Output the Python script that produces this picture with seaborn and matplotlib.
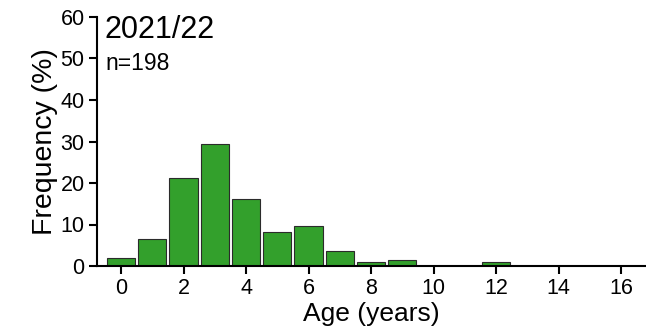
import matplotlib
matplotlib.use("Agg")
import matplotlib.pyplot as plt
import seaborn as sns
import pandas as pd

ages = [0, 1, 2, 3, 4, 5, 6, 7, 8, 9, 10, 11, 12, 13, 14, 15, 16]
freq = [2.0, 6.6, 21.2, 29.3, 16.2, 8.1, 9.6, 3.5, 1.0, 1.5, 0, 0, 1.0, 0, 0, 0, 0]
xticks = [0, 2, 4, 6, 8, 10, 12, 14, 16]
yticks = [0, 10, 20, 30, 40, 50, 60]
title = "2021/22"
ntext = "n=198"

sns.set_theme(style="ticks")
plt.rcParams['font.family'] = ['Liberation Sans', 'DejaVu Sans']
plt.rcParams['text.color'] = 'black'
plt.rcParams['axes.labelcolor'] = 'black'

df = pd.DataFrame({"age": ages, "freq": freq})

fig = plt.figure(figsize=(6.46, 3.28), dpi=100)
W, H = 646, 328
left, right, top, bottom = 97, 646, 17, 266
ax = fig.add_axes([left / W, 1 - bottom / H, (right - left) / W, (bottom - top) / H])

sns.barplot(data=df, x="age", y="freq", native_scale=True, width=0.9,
            color="#33a02c", saturation=1, edgecolor="#2b2b2b", linewidth=0.8, ax=ax)

ax.set_xlim(-0.77, 16.8)
ax.set_ylim(0, 60)
ax.set_xticks(xticks)
ax.set_yticks(yticks)
ax.tick_params(axis="both", labelsize=15.5, length=6, width=1.5, color="black",
               labelcolor="black", pad=3)
for s in ["left", "bottom"]:
    ax.spines[s].set_linewidth(1.5)
    ax.spines[s].set_color("black")
sns.despine(ax=ax)
ax.set_xlabel("Age (years)", fontsize=19, labelpad=2)
ax.set_ylabel("Frequency (%)", fontsize=20.5, labelpad=2)
ax.text(0.014, 1.01, title, transform=ax.transAxes, fontsize=22, va="top", ha="left")
ax.text(0.016, 0.86, ntext, transform=ax.transAxes, fontsize=16.5, va="top", ha="left")

fig.savefig("out.png", dpi=100)
